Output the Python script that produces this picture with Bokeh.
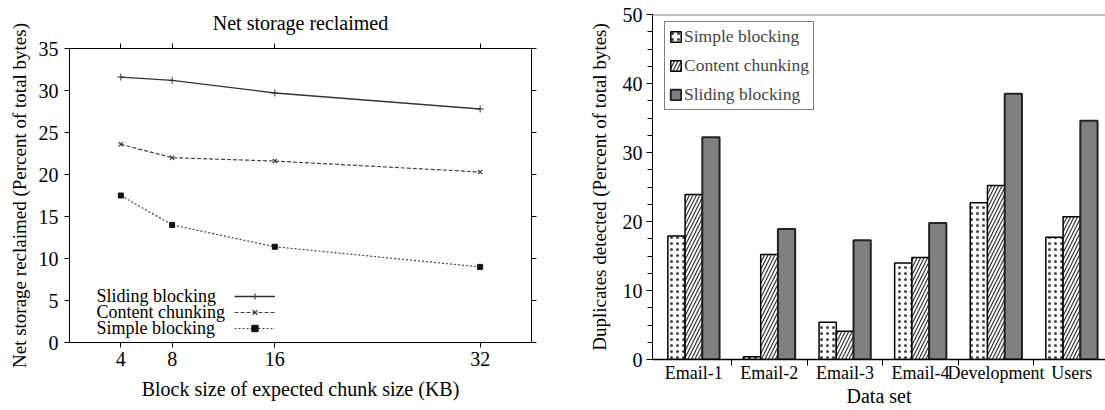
import numpy as np
from bokeh.plotting import figure
from bokeh.models import (Range1d, FixedTicker, LinearAxis, Legend, LegendItem,
                          Label, Span)
from bokeh.layouts import row, column
from bokeh.embed import file_html
from bokeh.resources import INLINE

FONT = "Liberation Serif"

# ---- Left chart data ----
block_sizes = [4, 8, 16, 32]
sliding_net = [31.6, 31.2, 29.7, 27.8]
content_net = [23.6, 22.0, 21.6, 20.3]
simple_net = [17.5, 14.0, 11.4, 9.0]
left_y_ticks = [0, 5, 10, 15, 20, 25, 30, 35]
left_series_names = ["Sliding blocking", "Content chunking", "Simple blocking"]

# ---- Right chart data ----
datasets = ["Email-1", "Email-2", "Email-3", "Email-4", "Development", "Users"]
simple_dup = [17.9, 0.4, 5.4, 14.0, 22.7, 17.7]
content_dup = [23.9, 15.2, 4.1, 14.8, 25.2, 20.7]
sliding_dup = [32.2, 18.9, 17.3, 19.8, 38.5, 34.6]
right_y_ticks = [0, 10, 20, 30, 40, 50]


def style_axis(ax, size="20px"):
    ax.axis_line_color = "black"
    ax.axis_line_width = 1
    ax.major_tick_line_color = "black"
    ax.minor_tick_line_color = "black"
    ax.major_tick_in = 0
    ax.major_tick_out = 5
    ax.minor_tick_in = 0
    ax.minor_tick_out = 0
    ax.major_label_text_font = FONT
    ax.major_label_text_font_size = size
    ax.major_label_text_color = "black"
    ax.axis_label_text_font = FONT
    ax.axis_label_text_font_style = "normal"
    ax.axis_label_text_color = "black"


# ================= Left figure =================
p1 = figure(width=560, height=410, output_backend="svg", toolbar_location=None,
            x_range=Range1d(0, 36), y_range=Range1d(0, 35),
            min_border_left=69, min_border_right=29, min_border_top=48,
            min_border_bottom=68)
p1.background_fill_color = "white"
p1.border_fill_color = "white"
p1.grid.visible = False
p1.outline_line_color = None

p1.xaxis.ticker = FixedTicker(ticks=block_sizes)
p1.yaxis.ticker = FixedTicker(ticks=left_y_ticks)
style_axis(p1.xaxis[0])
style_axis(p1.yaxis[0])
p1.xaxis.axis_label = "Block size of expected chunk size (KB)"
p1.xaxis.axis_label_text_font_size = "20px"
p1.xaxis.axis_label_standoff = 9
p1.xaxis.major_label_standoff = 4
p1.yaxis.axis_label = "Net storage reclaimed (Percent of total bytes)"
p1.yaxis.axis_label_text_font_size = "19px"
p1.yaxis.axis_label_standoff = 6
p1.yaxis.major_label_standoff = 6

top_ax = LinearAxis(ticker=FixedTicker(ticks=block_sizes))
right_ax = LinearAxis(ticker=FixedTicker(ticks=left_y_ticks))
for ax in (top_ax, right_ax):
    style_axis(ax)
    ax.major_label_text_font_size = "1px"
    ax.major_label_text_color = None
    ax.major_label_standoff = 0
# chart title drawn as the label of the mirrored top axis
top_ax.axis_label = "Net storage reclaimed"
top_ax.axis_label_text_font_size = "20px"
top_ax.axis_label_standoff = 10
p1.add_layout(top_ax, "above")
p1.add_layout(right_ax, "right")

l1 = p1.line(block_sizes, sliding_net, line_color="#333333", line_width=1.3)
s1 = p1.scatter(block_sizes, sliding_net, marker="cross", size=7,
                line_color="#333333", line_width=1)
l2 = p1.line(block_sizes, content_net, line_color="#444444", line_width=1.2,
             line_dash="4 2")
s2 = p1.scatter(block_sizes, content_net, marker="x", size=6,
                line_color="#333333", line_width=1.2)
l3 = p1.line(block_sizes, simple_net, line_color="#444444", line_width=1.2,
             line_dash="2 2")
s3 = p1.scatter(block_sizes, simple_net, marker="square", size=5,
                line_color="#111111", fill_color="#111111")

leg1 = Legend(items=[LegendItem(label=" ", renderers=[l1, s1]),
                     LegendItem(label=" ", renderers=[l2, s2]),
                     LegendItem(label=" ", renderers=[l3, s3])],
              location=(165, 6), glyph_width=41, glyph_height=16,
              label_height=16, label_width=0, label_standoff=0, spacing=0,
              padding=0, margin=0, border_line_color=None,
              background_fill_alpha=0, label_text_font_size="6px")
p1.add_layout(leg1)

legend_text_y = [5.57, 3.58, 1.67]
for name, yy in zip(left_series_names, legend_text_y):
    p1.add_layout(Label(x=2.1, y=yy, text=name, text_font=FONT,
                        text_font_size="18px", text_baseline="middle",
                        text_align="left", text_color="black"))

# ================= Right figure =================
p2 = figure(width=545, height=410, output_backend="svg", toolbar_location=None,
            x_range=Range1d(-0.045, 5.947), y_range=Range1d(0, 50),
            min_border_left=92, min_border_right=0, min_border_top=14,
            min_border_bottom=51)
p2.background_fill_color = "white"
p2.border_fill_color = "white"
p2.grid.visible = False
p2.outline_line_color = None

centers = np.arange(len(datasets)) + 0.5
bw = 0.228
b1 = p2.vbar(x=centers - bw, top=simple_dup, width=bw, fill_color="white",
             hatch_pattern="dot", hatch_scale=6, hatch_weight=1.0,
             hatch_color="#444444", line_color="black", line_width=1.5)
b2 = p2.vbar(x=centers, top=content_dup, width=bw, fill_color="white",
             hatch_pattern="right_diagonal_line", hatch_scale=7, hatch_weight=1.2,
             hatch_color="#333333", line_color="black", line_width=1.5)
b3 = p2.vbar(x=centers + bw, top=sliding_dup, width=bw, fill_color="#808080",
             line_color="#222222", line_width=2)

p2.add_layout(Span(location=50, dimension="width", line_color="#888888",
                   line_width=2))

style_axis(p2.xaxis[0], "18px")
style_axis(p2.yaxis[0], "20px")
p2.xaxis.ticker = FixedTicker(ticks=list(centers),
                              minor_ticks=list(np.arange(1, len(datasets))))
p2.xaxis.major_label_overrides = {float(c): d for c, d in zip(centers, datasets)}
p2.xaxis.major_tick_out = 0
p2.xaxis.minor_tick_out = 6
p2.xaxis.major_label_standoff = -3
p2.xaxis.axis_line_width = 1.5
p2.xaxis.axis_label = "Data set"
p2.xaxis.axis_label_text_font_size = "20px"
p2.xaxis.axis_label_standoff = -1

p2.yaxis.ticker = FixedTicker(ticks=right_y_ticks,
                              minor_ticks=list(np.arange(0, 50.1, 2.5)))
p2.yaxis.minor_tick_out = 5
p2.yaxis.major_tick_out = 6
p2.yaxis.major_label_standoff = 4
p2.yaxis.axis_label = "Duplicates detected (Percent of total bytes)"
p2.yaxis.axis_label_text_font_size = "19px"
p2.yaxis.axis_label_standoff = 10

leg2 = Legend(items=[LegendItem(label="Simple blocking", renderers=[b1]),
                     LegendItem(label="Content chunking", renderers=[b2]),
                     LegendItem(label="Sliding blocking", renderers=[b3])],
              location=(12, 249), glyph_width=13, glyph_height=13,
              label_height=20, label_standoff=2, spacing=8, padding=4,
              border_line_color="black", border_line_width=1,
              background_fill_color="white", background_fill_alpha=1,
              label_text_font=FONT, label_text_font_size="17.5px")
p2.add_layout(leg2)

layout = row(column(p1), column(p2))
open("out.html", "w").write(file_html(layout, INLINE))
